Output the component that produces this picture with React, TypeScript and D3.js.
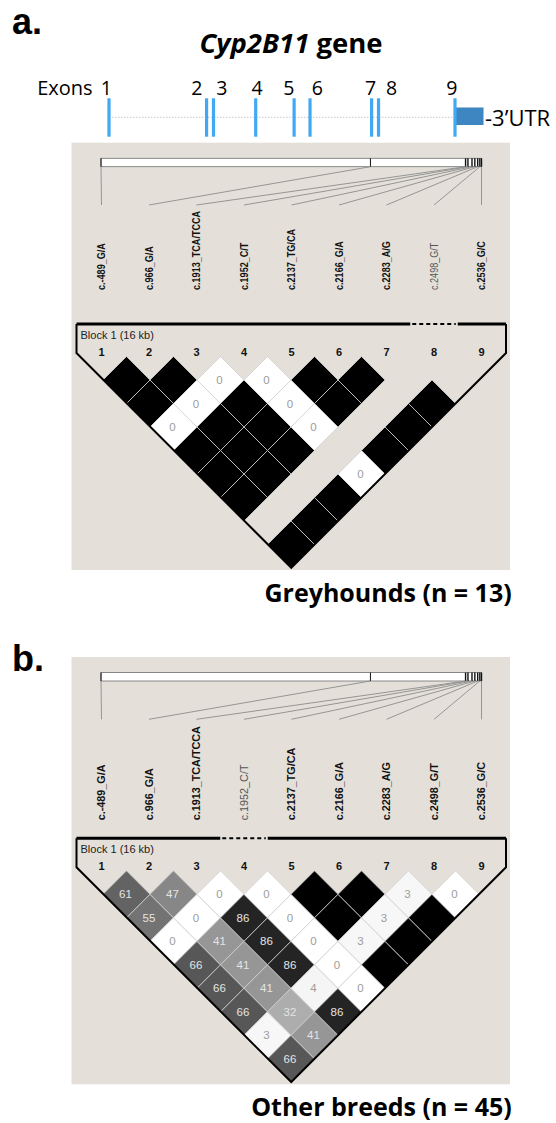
import React from 'react';
import * as d3 from 'd3';

// ---------- data ----------
const markerLabels = [
  'c.-489_G/A', 'c.966_G/A', 'c.1913_TCA/TCCA', 'c.1952_C/T', 'c.2137_TG/CA',
  'c.2166_G/A', 'c.2283_A/G', 'c.2498_G/T', 'c.2536_G/C',
];
const blockNumbers = ['1', '2', '3', '4', '5', '6', '7', '8', '9'];
// relative physical position of each marker inside the 16 kb block
const markerKb = [0, 11.33, 15.33, 15.43, 15.6, 15.72, 15.84, 15.93, 16.0];

const exonNumbers = ['1', '2', '3', '4', '5', '6', '7', '8', '9'];
const exonPos = [0, 0.282, 0.302, 0.424, 0.535, 0.581, 0.759, 0.779, 1.0];
const exonLabelPos = [-0.008, 0.254, 0.326, 0.428, 0.52, 0.602, 0.756, 0.817, 0.991];

// r² x100, row i = marker i paired with markers i+1..9 (null = not computed)
const greyhoundR2: (number | null)[][] = [
  [100, 100, 0, 100, 100, 100, null, 100],
  [100, 0, 100, 100, 100, null, 100],
  [0, 100, 100, 100, null, 100],
  [0, 0, 0, null, 0],
  [100, 100, null, 100],
  [100, null, 100],
  [null, 100],
  [null],
];
const otherR2: (number | null)[][] = [
  [61, 55, 0, 66, 66, 66, 3, 66],
  [47, 0, 41, 41, 41, 32, 41],
  [0, 86, 86, 86, 4, 86],
  [0, 0, 0, 0, 0],
  [100, 100, 3, 100],
  [100, 3, 100],
  [3, 100],
  [0],
];

const panelCaptions = ['Greyhounds (n = 13)', 'Other breeds (n = 45)'];
const panelLetters = ['a.', 'b.'];
const excludedMarker = [7, 3];

const ANNOT = "'Open Sans', 'Noto Sans', sans-serif";
const HV = "'Liberation Sans', Arial, sans-serif";

type PanelProps = {
  dy: number;
  r2: (number | null)[][];
  excluded: number;
  textScale: number;
  labelBottom: number;
  caption: string;
};

function LDPanel({ dy, r2, excluded, textScale, labelBottom, caption }: PanelProps) {
  const labelX = d3.scaleLinear().domain([0, 8]).range([101.5, 481.5]);
  const cellX = d3.scaleLinear().domain([0, 8]).range([103, 479]);
  const rowY = d3.scaleLinear().domain([1, 8]).range([380, 380 + 7 * 23.5]);
  const physX = d3.scaleLinear().domain([0, 16]).range([101, 481.5]);
  const shade = d3.scaleLinear<string>().domain([0, 100]).range(['#ffffff', '#000000']);
  const hw = 23.5;
  const hh = 23.5;

  const cells: { i: number; j: number; v: number }[] = [];
  r2.forEach((row, i) =>
    row.forEach((v, k) => {
      if (v === null) return;
      cells.push({ i, j: i + 1 + k, v });
    })
  );

  const barTop = 158.3;
  const barBot = 166.7;
  const lineEnd = 205;
  const topY = 324;
  const sideY = 353;
  const leftX = 76.5;
  const rightX = 506;
  const apexX = (leftX + rightX) / 2;
  const apexY = sideY + (apexX - leftX);
  const dashA = (labelX(excluded - 1) + labelX(excluded)) / 2;
  const dashB = (labelX(excluded) + labelX(excluded + 1)) / 2;

  return (
    <g transform={`translate(0,${dy})`}>
      <rect x={71.5} y={142.7} width={438.5} height={427.3} fill="#e4e0d9" />
      {/* physical map bar */}
      <rect x={physX(0)} y={barTop} width={physX(16) - physX(0)} height={barBot - barTop}
        fill="#ffffff" stroke="#6f6f6f" strokeWidth={0.8} />
      {markerKb.map((kb, i) => (
        <line key={'t' + i} x1={physX(kb)} x2={physX(kb)} y1={barTop} y2={barBot}
          stroke="#111" strokeWidth={i >= 2 ? 1.4 : 1} />
      ))}
      {markerKb.map((kb, i) => (
        <line key={'c' + i} x1={physX(kb)} y1={barBot} x2={labelX(i)} y2={lineEnd}
          stroke="#8c8c8c" strokeWidth={0.9} />
      ))}
      {markerLabels.map((lab, i) => {
        const isEx = i === excluded;
        return (
          <g key={'l' + i} transform={`translate(${labelX(i)},${labelBottom}) rotate(-90) scale(${textScale},1)`}>
            <text x={0} y={3.9} fontFamily={HV} fontSize={10.8}
              fontWeight={isEx ? 'normal' : 'bold'} fill={isEx ? '#555' : '#111'}>
              {lab}
            </text>
          </g>
        );
      })}
      {/* block header */}
      <line x1={leftX} x2={dashA} y1={topY} y2={topY} stroke="#000" strokeWidth={3} />
      <line x1={dashA + 2} x2={dashB - 2} y1={topY} y2={topY} stroke="#000" strokeWidth={2}
        strokeDasharray="4 3" />
      <line x1={dashB} x2={rightX} y1={topY} y2={topY} stroke="#000" strokeWidth={3} />
      <text x={80.5} y={339} fontFamily={HV} fontSize={11} fill="#222">Block 1 (16 kb)</text>
      {blockNumbers.map((n, i) => (
        <text key={'n' + i} x={labelX(i)} y={356} textAnchor="middle" fontFamily={HV}
          fontSize={11} fontWeight="bold" fill="#111">{n}</text>
      ))}
      {/* cells */}
      {cells.map(({ i, j, v }) => {
        const cx = cellX((i + j) / 2);
        const cy = rowY(j - i);
        const pts = `${cx},${cy - hh} ${cx + hw},${cy} ${cx},${cy + hh} ${cx - hw},${cy}`;
        return (
          <g key={`c${i}-${j}`}>
            <polygon points={pts} fill={shade(v)} stroke="#cfcfcf" strokeWidth={0.8} />
            {v < 100 && (
              <text x={cx - 1} y={cy + 4} textAnchor="middle" fontFamily={HV} fontSize={11.5}
                fill={v >= 30 ? '#e4e4e4' : '#9c9c9c'}>{v}</text>
            )}
          </g>
        );
      })}
      <path d={`M${leftX},${topY} L${leftX},${sideY} L${apexX},${apexY} L${rightX},${sideY} L${rightX},${topY}`}
        fill="none" stroke="#000" strokeWidth={2} />
      <text x={511.7} y={601.5} textAnchor="end" fontFamily={ANNOT} fontSize={25}
        fontWeight="bold" fill="#000">{caption}</text>
    </g>
  );
}

export default function App() {
  const geneX = d3.scaleLinear().domain([0, 1]).range([109, 455]);
  return (
    <svg width={556} height={1123} viewBox="0 0 556 1123"
      style={{ position: 'absolute', left: 0, top: 0, display: 'block', background: '#fff' }}>
      <rect x={0} y={0} width={556} height={1123} fill="#fff" />
      <text x={12} y={34} fontFamily={HV} fontSize={36} fontWeight="bold">{panelLetters[0]}</text>
      <text x={291} y={53.3} textAnchor="middle" fontFamily={ANNOT} fontSize={27.5} fontWeight="bold">
        <tspan fontStyle="italic">Cyp2B11</tspan> gene
      </text>
      {/* gene structure */}
      <text x={37.2} y={95} fontFamily={ANNOT} fontSize={20}>Exons</text>
      {exonNumbers.map((n, i) => (
        <text key={'e' + i} x={geneX(exonLabelPos[i])} y={95} textAnchor="middle"
          fontFamily={ANNOT} fontSize={19.5}>{n}</text>
      ))}
      <line x1={geneX(0)} x2={geneX(1)} y1={117.3} y2={117.3} stroke="#c8c8c8" strokeWidth={1}
        strokeDasharray="1.5 1.5" />
      <rect x={geneX(1) + 1} y={107.5} width={27.5} height={17.5} fill="#3d86c2" />
      {exonPos.map((p, i) => (
        <rect key={'x' + i} x={geneX(p) - 1.6} y={98.3} width={3.2} height={38.4} fill="#41a9f2" />
      ))}
      <text x={485} y={126} fontFamily={ANNOT} fontSize={22}>-3’UTR</text>

      <LDPanel dy={0} r2={greyhoundR2} excluded={excludedMarker[0]} textScale={0.84}
        labelBottom={290} caption={panelCaptions[0]} />
      <text x={12} y={671} fontFamily={HV} fontSize={36} fontWeight="bold">{panelLetters[1]}</text>
      <LDPanel dy={514.3} r2={otherR2} excluded={excludedMarker[1]} textScale={1}
        labelBottom={306} caption={panelCaptions[1]} />
    </svg>
  );
}
